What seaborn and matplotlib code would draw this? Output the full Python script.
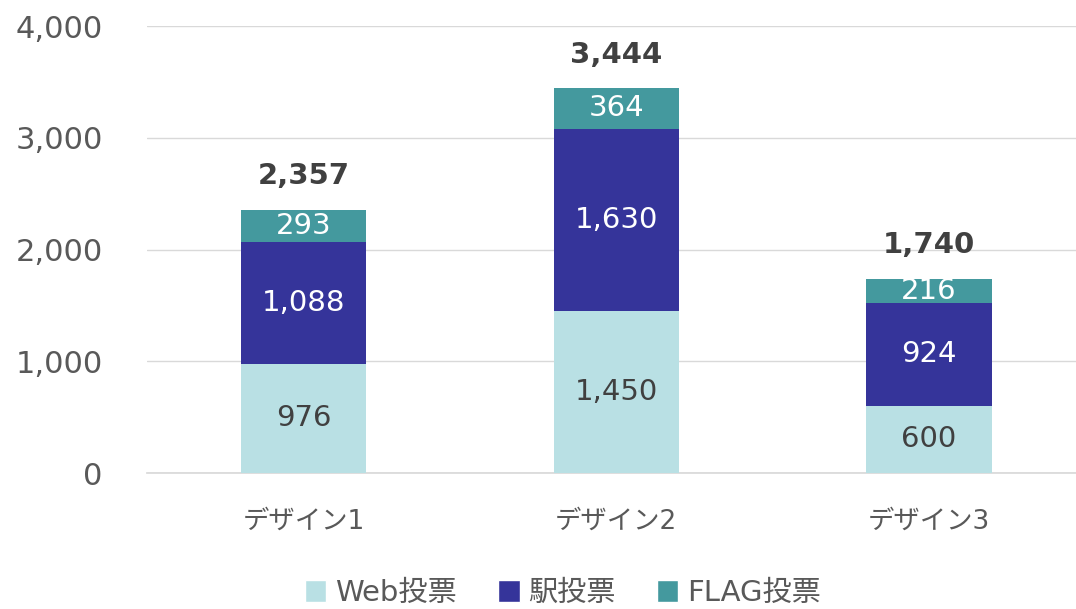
import numpy as np
import pandas as pd
import seaborn as sns
import matplotlib.pyplot as plt
from matplotlib.patches import Patch

categories = ["デザイン1", "デザイン2", "デザイン3"]
web_votes = [976, 1450, 600]
station_votes = [1088, 1630, 924]
flag_votes = [293, 364, 216]
series_names = ["Web投票", "駅投票", "FLAG投票"]
colors = ["#B9E0E4", "#35349A", "#44999E"]

sns.set_theme(style="white")
plt.rcParams['font.family'] = ['DejaVu Sans', 'Noto Sans CJK JP']

fig = plt.figure(figsize=(10.76, 6.09), dpi=100)
ax = fig.add_axes([0.1366, 0.2233, 0.8634, 0.734])

series = [web_votes, station_votes, flag_votes]
bottom = np.zeros(len(categories))
for name, vals, col in zip(series_names, series, colors):
    df = pd.DataFrame({"cat": categories, "val": vals})
    sns.barplot(data=df, x="cat", y="val", color=col, width=0.4,
                bottom=bottom, ax=ax, saturation=1, zorder=3, linewidth=0)
    txt_col = "#404040" if name == "Web投票" else "white"
    for i, v in enumerate(vals):
        ax.text(i, bottom[i] + v / 2, f"{v:,}", ha="center", va="center",
                fontsize=21, color=txt_col, zorder=4)
    bottom = bottom + np.array(vals)

for i, t in enumerate(bottom):
    ax.text(i, t + 175, f"{int(t):,}", ha="center", va="bottom",
            fontsize=21, fontweight="bold", color="#404040")

ax.set_ylim(0, 4000)
ax.set_xlim(-0.5, 2.47)
ax.set_yticks([0, 1000, 2000, 3000, 4000])
ax.set_yticklabels([f"{v:,}" for v in [0, 1000, 2000, 3000, 4000]])
ax.yaxis.grid(True, color="#D9D9D9", linewidth=1, zorder=0)
ax.set_axisbelow(True)
for s in ["top", "right", "left"]:
    ax.spines[s].set_visible(False)
ax.spines["bottom"].set_color("#D9D9D9")
ax.tick_params(axis="y", labelsize=22, labelcolor="#595959", length=0, pad=32)
ax.tick_params(axis="x", labelsize=19, labelcolor="#595959", length=0, pad=26)
ax.set_xlabel(None)
ax.set_ylabel(None)

handles = [Patch(facecolor=c, label=n) for n, c in zip(series_names, colors)]
fig.legend(handles=handles, loc="center", bbox_to_anchor=(0.523, 0.026), ncol=3,
           frameon=False, fontsize=21, handlelength=0.75, handleheight=0.75,
           handletextpad=0.3, columnspacing=1.4, labelcolor="#595959")

fig.savefig("out.png", dpi=100)
